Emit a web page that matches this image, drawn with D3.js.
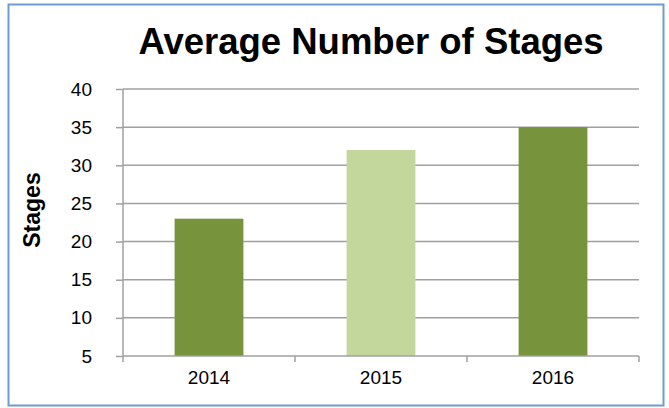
<!DOCTYPE html>
<html><head><meta charset="utf-8">
<script src="https://cdn.jsdelivr.net/npm/d3@7"></script>
<style>body{margin:0;background:#fff}svg{display:block}</style>
</head><body>
<svg id="c" width="669" height="408"></svg>
<script>
const title = "Average Number of Stages";
const yLabel = "Stages";
const categories = ["2014", "2015", "2016"];
const values = [23, 32, 35];
const barColors = ["#77933C", "#C3D69B", "#77933C"];
const yTicks = [5, 10, 15, 20, 25, 30, 35, 40];

const svg = d3.select("#c");
const font = "'Liberation Sans', Arial, sans-serif";
svg.append("rect").attr("x", 8.5).attr("y", 4.5).attr("width", 655).attr("height", 401)
  .attr("fill", "#fff").attr("stroke", "#6E9BD0").attr("stroke-width", 2);

const L = 123, R = 639, T = 89, B = 356;
const x = d3.scaleBand().domain(categories).range([L, R]).paddingInner(0.6).paddingOuter(0.3);
const y = d3.scaleLinear().domain([5, 40]).range([B, T]);

// gridlines
svg.append("g").selectAll("line").data(yTicks.slice(1)).join("line")
  .attr("x1", L).attr("x2", R).attr("y1", d => y(d)).attr("y2", d => y(d))
  .attr("stroke", "#A0A0A0").attr("stroke-width", 1.5);

// bars
svg.append("g").selectAll("rect").data(values).join("rect")
  .attr("x", (d, i) => x(categories[i])).attr("width", x.bandwidth())
  .attr("y", d => y(d)).attr("height", d => y(5) - y(d))
  .attr("fill", (d, i) => barColors[i]);

// y axis
const ya = svg.append("g").attr("transform", `translate(${L},0)`)
  .call(d3.axisLeft(y).tickValues(yTicks).tickSize(7).tickPadding(24));
ya.select(".domain").attr("stroke", "#A0A0A0").attr("stroke-width", 1.5).attr("d", `M0,${T}V${B}`);
ya.selectAll(".tick line").attr("stroke", "#A0A0A0").attr("stroke-width", 1.5);
ya.selectAll(".tick text").attr("font-family", font).attr("font-size", 19).attr("fill", "#000").attr("dx", 0);

// x axis
const xa = svg.append("g").attr("transform", `translate(0,${B})`)
  .call(d3.axisBottom(x).tickSize(0).tickPadding(15));
xa.select(".domain").attr("stroke", "#A0A0A0").attr("stroke-width", 1.5).attr("d", `M${L},0H${R}`);
xa.selectAll(".tick text").attr("font-family", font).attr("font-size", 19).attr("fill", "#000");
const step = (R - L) / categories.length;
svg.append("g").selectAll("line").data(d3.range(categories.length + 1)).join("line")
  .attr("x1", i => L + i * step).attr("x2", i => L + i * step)
  .attr("y1", B).attr("y2", B + 6).attr("stroke", "#A0A0A0").attr("stroke-width", 1.5);

// title
svg.append("text").attr("x", 371).attr("y", 54).attr("text-anchor", "middle")
  .attr("font-family", font).attr("font-weight", "bold").attr("font-size", 36.5).attr("fill", "#000")
  .text(title);

// y label
svg.append("text").attr("transform", "translate(40,210) rotate(-90)").attr("text-anchor", "middle")
  .attr("font-family", font).attr("font-weight", "bold").attr("font-size", 23).attr("fill", "#000")
  .text(yLabel);
</script>
</body></html>
